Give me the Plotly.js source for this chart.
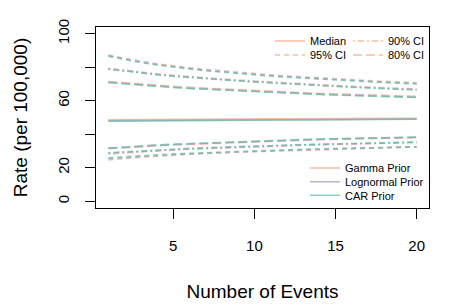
<!DOCTYPE html>
<html>
<head>
<meta charset="utf-8">
<script src="https://cdn.plot.ly/plotly-3.0.1.min.js"></script>
<style>html,body{margin:0;padding:0;background:#fff;}#chart{width:457px;height:305px;}</style>
</head>
<body>
<div id="chart"></div>
<script>
// Number of events
const events = [1,2,3,4,5,6,7,8,9,10,11,12,13,14,15,16,17,18,19,20];

// Gamma prior
const gammaMedian = [48.6,48.7,48.8,48.8,48.9,48.9,49.0,49.0,49.1,49.1,49.2,49.2,49.3,49.3,49.4,49.4,49.5,49.5,49.6,49.6];
const gammaU95 = [87.3,85.3,83.6,82.1,80.8,79.7,78.7,77.8,77.0,76.2,75.5,74.8,74.2,73.6,73.1,72.6,72.1,71.6,71.2,70.8];
const gammaU90 = [79.4,78.2,77.1,76.1,75.2,74.4,73.7,73.0,72.4,71.8,71.2,70.6,70.1,69.6,69.1,68.6,68.2,67.8,67.4,67.0];
const gammaU80 = [71.5,70.7,69.9,69.2,68.6,68.0,67.5,67.0,66.5,66.0,65.6,65.2,64.8,64.4,64.1,63.8,63.5,63.2,62.9,62.6];
const gammaL80 = [31.3,32.0,32.6,33.1,33.6,34.0,34.4,34.8,35.2,35.5,35.8,36.1,36.4,36.7,36.9,37.1,37.3,37.5,37.7,37.9];
const gammaL90 = [28.2,28.9,29.5,30.1,30.6,31.0,31.4,31.8,32.2,32.5,32.8,33.1,33.4,33.7,34.0,34.2,34.4,34.6,34.8,35.0];
const gammaL95 = [24.7,25.6,26.3,26.9,27.5,28.0,28.4,28.9,29.3,29.6,30.0,30.3,30.6,30.9,31.2,31.5,31.7,31.9,32.1,32.3];

// Lognormal prior
const lognMedian = [48.1,48.2,48.3,48.3,48.4,48.4,48.5,48.5,48.6,48.6,48.7,48.7,48.8,48.8,48.9,48.9,49.0,49.0,49.1,49.1];
const lognU95 = [86.8,84.8,83.1,81.6,80.3,79.2,78.2,77.3,76.5,75.7,75.0,74.3,73.7,73.1,72.6,72.1,71.6,71.1,70.7,70.3];
const lognU90 = [79.0,77.8,76.7,75.7,74.8,74.0,73.3,72.6,72.0,71.4,70.8,70.2,69.7,69.2,68.7,68.2,67.8,67.4,67.0,66.6];
const lognU80 = [71.0,70.2,69.4,68.7,68.1,67.5,67.0,66.5,66.0,65.5,65.1,64.7,64.3,63.9,63.6,63.3,63.0,62.7,62.4,62.1];
const lognL80 = [31.6,32.3,32.9,33.4,33.9,34.3,34.7,35.1,35.5,35.8,36.1,36.4,36.7,37.0,37.2,37.4,37.6,37.8,38.0,38.2];
const lognL90 = [28.7,29.3,29.9,30.4,30.9,31.3,31.7,32.1,32.4,32.7,33.0,33.3,33.6,33.9,34.2,34.4,34.6,34.8,35.0,35.2];
const lognL95 = [25.5,26.2,26.8,27.4,27.9,28.4,28.8,29.2,29.6,29.9,30.2,30.5,30.8,31.1,31.4,31.6,31.9,32.1,32.3,32.5];

// CAR prior
const carMedian = [47.8,47.9,48.0,48.0,48.1,48.2,48.2,48.3,48.3,48.4,48.4,48.5,48.5,48.6,48.6,48.7,48.7,48.8,48.8,48.9];
const carU95 = [86.5,84.5,82.8,81.3,80.0,78.9,77.9,77.0,76.2,75.4,74.7,74.0,73.4,72.8,72.3,71.8,71.3,70.8,70.4,70.0];
const carU90 = [78.8,77.6,76.5,75.5,74.6,73.8,73.1,72.4,71.8,71.2,70.6,70.0,69.5,69.0,68.5,68.0,67.6,67.2,66.8,66.4];
const carU80 = [70.8,70.0,69.2,68.5,67.9,67.3,66.8,66.3,65.8,65.3,64.9,64.5,64.1,63.7,63.4,63.1,62.8,62.5,62.2,61.9];
const carL80 = [31.8,32.5,33.1,33.6,34.1,34.5,34.9,35.3,35.7,36.0,36.3,36.6,36.9,37.2,37.4,37.6,37.8,38.0,38.2,38.4];
const carL90 = [29.0,29.6,30.2,30.7,31.2,31.6,32.0,32.4,32.7,33.0,33.3,33.6,33.9,34.1,34.4,34.6,34.8,35.0,35.2,35.4];
const carL95 = [26.0,26.7,27.3,27.8,28.3,28.7,29.1,29.5,29.8,30.1,30.4,30.7,31.0,31.3,31.5,31.8,32.0,32.2,32.4,32.6];

const yTickVals = [0,20,40,60,80,100];
const yTickText = ['0','20','','60','','100'];
const xTickVals = [5,10,15,20];

const statNames = ['Median','95% CI','90% CI','80% CI'];
const priorNames = ['Gamma Prior','Lognormal Prior','CAR Prior'];

const colors = {
  gamma: 'rgba(244,165,130,0.75)',
  logn: 'rgba(158,154,200,0.75)',
  car: 'rgba(102,194,165,0.75)'
};
const dashes = {
  median: 'solid',
  c95: '5px,4px',
  c90: '2px,3px,6px,3px',
  c80: '9px,4px'
};
const LW = 1.5;

const priors = [
  {key:'gamma', m:gammaMedian, u95:gammaU95, u90:gammaU90, u80:gammaU80, l80:gammaL80, l90:gammaL90, l95:gammaL95},
  {key:'logn', m:lognMedian, u95:lognU95, u90:lognU90, u80:lognU80, l80:lognL80, l90:lognL90, l95:lognL95},
  {key:'car', m:carMedian, u95:carU95, u90:carU90, u80:carU80, l80:carL80, l90:carL90, l95:carL95}
];

const traces = [];
priors.forEach(p => {
  const series = [
    [p.m, dashes.median], [p.u95, dashes.c95], [p.l95, dashes.c95],
    [p.u90, dashes.c90], [p.l90, dashes.c90], [p.u80, dashes.c80], [p.l80, dashes.c80]
  ];
  series.forEach(s => {
    traces.push({x: events, y: s[0], type:'scatter', mode:'lines', showlegend:false, hoverinfo:'skip',
      line:{color: colors[p.key], width: LW, dash: s[1]}});
  });
});

// plot area geometry (px) for positioning legends
const L = 96, R = 28, T = 27, B = 97, W = 457, H = 305;
const pw = W - L - R, ph = H - T - B;
function px2x(px){ return (px - L) / pw; }
function px2y(py){ return (H - B - py) / ph; }

// legend entries: [name, color, dash, legendId, textLeftPx, centerYPx]
const legendItems = [
  [statNames[0], colors.gamma, dashes.median, 'legend', 310, 41],
  [statNames[1], colors.gamma, dashes.c95, 'legend2', 310, 55],
  [statNames[2], colors.gamma, dashes.c90, 'legend3', 388, 41],
  [statNames[3], colors.gamma, dashes.c80, 'legend4', 388, 55],
  [priorNames[0], colors.gamma, 'solid', 'legend5', 345, 168],
  [priorNames[1], colors.logn, 'solid', 'legend6', 345, 181.7],
  [priorNames[2], colors.car, 'solid', 'legend7', 345, 195.3]
];

const layout = {
  width: W, height: H,
  margin: {l:L, r:R, t:T, b:B, pad:0},
  paper_bgcolor:'#fff', plot_bgcolor:'#fff',
  font: {family:'"Liberation Sans", Arial, Helvetica, sans-serif', color:'#000', size:15},
  xaxis: {
    range:[0.24, 20.76], tickvals: xTickVals, ticks:'outside', ticklen:10, tickwidth:1, tickcolor:'#000',
    showline:true, linecolor:'#000', linewidth:1, mirror:true, showgrid:false, zeroline:false,
    tickfont:{size:15}, ticklabelstandoff: 14,
    title:{text:'Number of Events', font:{size:19}, standoff: 31}, automargin:false
  },
  yaxis: {
    range:[-4, 104], tickvals: yTickVals, ticktext: yTickText, ticks:'outside', ticklen:10, tickwidth:1, tickcolor:'#000',
    showline:true, linecolor:'#000', linewidth:1, mirror:true, showgrid:false, zeroline:false,
    tickfont:{size:15}, tickangle:-90, ticklabelstandoff: 10,
    title:{text:'Rate (per 100,000)', font:{size:19}, standoff: 22}, automargin:false
  }
};

legendItems.forEach(it => {
  traces.push({x:[null], y:[null], type:'scatter', mode:'lines', name: it[0], legend: it[3], showlegend:true,
    hoverinfo:'skip', line:{color: it[1], width: LW, dash: it[2]}});
  layout[it[3]] = {
    x: px2x(it[4] - 40), y: px2y(it[5]), xanchor:'left', yanchor:'middle',
    bgcolor:'rgba(0,0,0,0)', borderwidth:0, font:{size:11, color:'#000'}, itemclick:false, itemdoubleclick:false
  };
});

Plotly.newPlot('chart', traces, layout, {staticPlot:true, displayModeBar:false});
</script>
</body>
</html>
